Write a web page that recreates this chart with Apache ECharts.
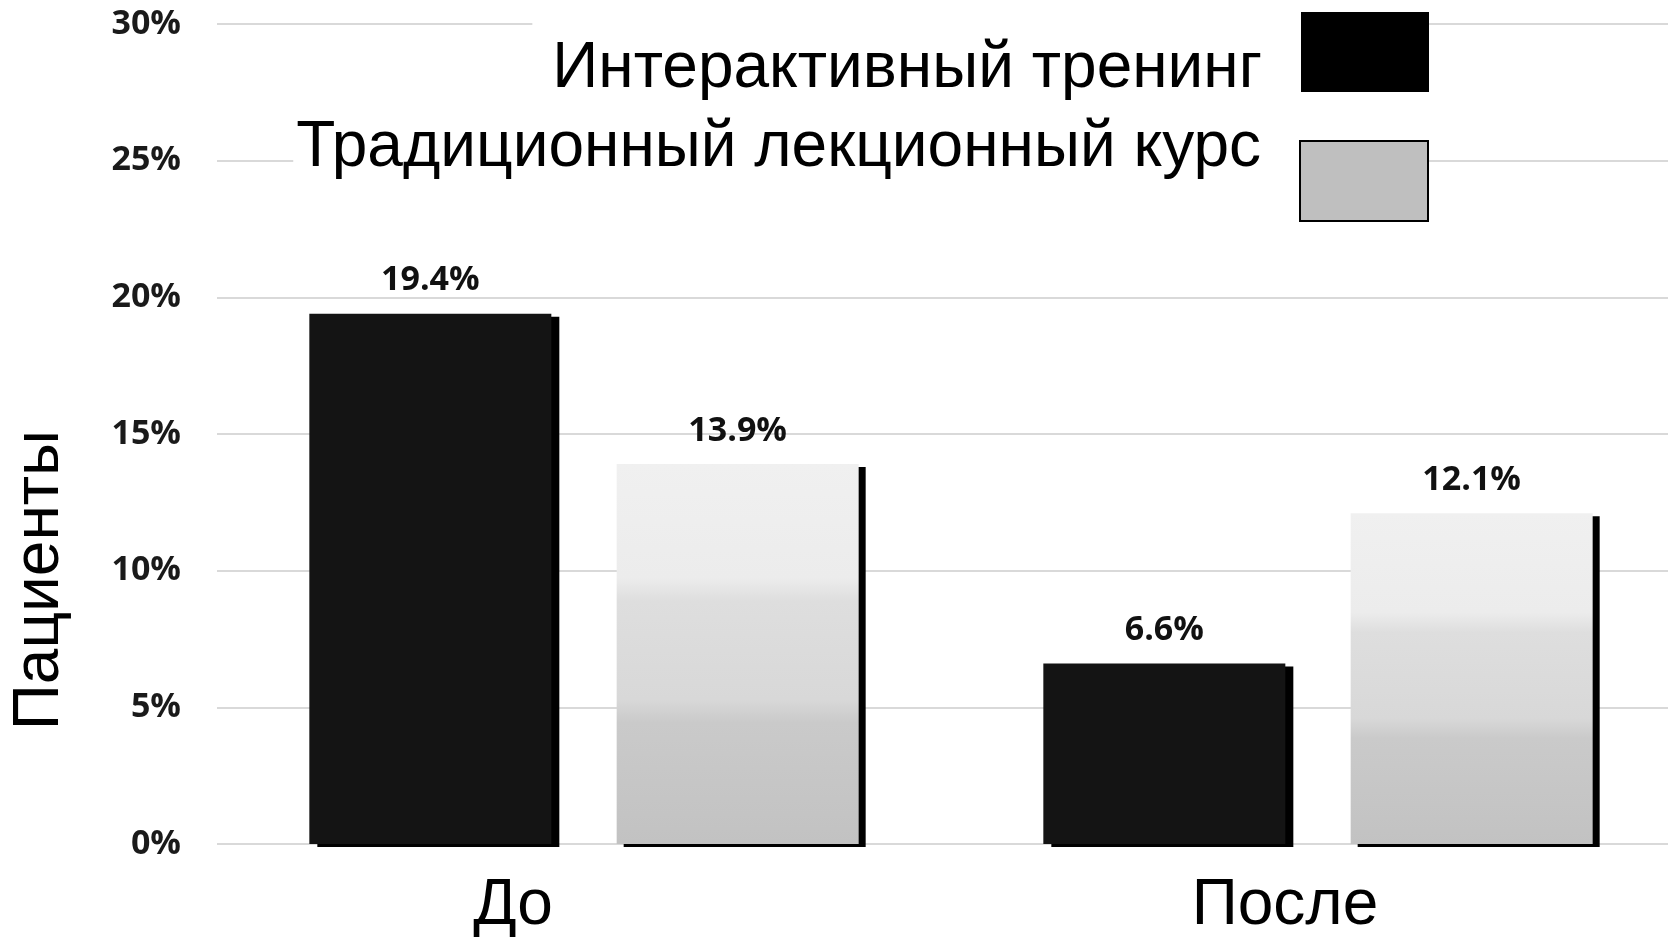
<html>

<head>
    <script src="https://cdn.jsdelivr.net/npm/echarts@6.0.0/dist/echarts.min.js"></script>
    <style>
        body {
            margin: 0;
            background: #fff;
            overflow: hidden;
        }
        /* a bit wider than the window: the original plot runs past the right edge */
        #chart {
            width: 1685px;
            height: 942px;
        }
    </style>
</head>

<body>
    <div id="chart"></div>

    <script>
        // data
        const categories = ['До', 'После'];
        const interactive = [19.4, 6.6];
        const lecture = [13.9, 12.1];
        const seriesNames = ['Интерактивный тренинг', 'Традиционный лекционный курс'];
        const yTicks = { min: 0, max: 30, step: 5 };

        const bigFont = 'Liberation Sans, Arial, sans-serif';
        const smallFont = 'Open Sans, sans-serif';

        // the category labels sit a bit left of the bar groups in the original
        const labelShift = [-71, -33];

        const chart = echarts.init(document.getElementById('chart'));

        const grayFill = new echarts.graphic.LinearGradient(0, 0, 0, 1, [
            { offset: 0, color: '#f0f0f0' },
            { offset: 0.3, color: '#ececec' },
            { offset: 0.36, color: '#dedede' },
            { offset: 0.62, color: '#d8d8d8' },
            { offset: 0.68, color: '#cacaca' },
            { offset: 1, color: '#c2c2c2' }
        ]);

        const valueLabel = {
            show: true,
            position: 'top',
            distance: 16,
            formatter: '{c}%',
            fontFamily: smallFont,
            fontWeight: 'bold',
            fontSize: 34,
            color: '#111'
        };

        // legend text is nudged up/down against its swatch with rich padding
        const legendText = (pad) => ({
            rich: {
                t: {
                    fontFamily: bigFont,
                    fontSize: 64,
                    lineHeight: 64,
                    color: '#000',
                    padding: pad
                }
            }
        });

        const legendBase = {
            orient: 'vertical',
            right: 256,
            align: 'right',
            icon: 'rect',
            itemWidth: 128,
            itemHeight: 80,
            backgroundColor: '#fff',
            borderWidth: 0,
            selectedMode: false,
            formatter: (name) => '{t|' + name + '}',
            z: 10
        };

        const option = {
            animation: false,
            backgroundColor: '#fff',
            grid: {
                left: 208,
                right: 0,
                top: 24,
                bottom: 98
            },
            legend: [
                Object.assign({}, legendBase, {
                    top: 3,
                    padding: [0, 0, 0, 20],
                    data: [{
                        name: seriesNames[0],
                        itemStyle: { color: '#000', borderWidth: 0, shadowOffsetX: 0, shadowOffsetY: 0 }
                    }],
                    textStyle: legendText([34, 34, 0, 0])
                }),
                Object.assign({}, legendBase, {
                    top: 116,
                    padding: [0, 0, 0, 3],
                    data: [{
                        name: seriesNames[1],
                        itemStyle: { color: '#bfbfbf', borderColor: '#000', borderWidth: 2, shadowOffsetX: 0, shadowOffsetY: 0 }
                    }],
                    textStyle: legendText([0, 34, 66, 0])
                })
            ],
            xAxis: {
                type: 'category',
                data: categories.map((c, i) => ({
                    value: c,
                    textStyle: { padding: [0, Math.max(0, -2 * labelShift[i]), 0, 0] }
                })),
                axisLine: { show: false },
                axisTick: { show: false },
                axisLabel: {
                    margin: 30,
                    fontFamily: bigFont,
                    fontSize: 64,
                    color: '#000'
                }
            },
            yAxis: {
                type: 'value',
                min: yTicks.min,
                max: yTicks.max,
                interval: yTicks.step,
                name: 'Пациенты',
                nameLocation: 'middle',
                nameGap: 145,
                nameTextStyle: {
                    fontFamily: bigFont,
                    fontSize: 64,
                    color: '#000',
                    padding: [0, 292, 0, 0]
                },
                axisLabel: {
                    formatter: '{value}%',
                    margin: 36,
                    fontFamily: smallFont,
                    fontWeight: 'bold',
                    fontSize: 34,
                    color: '#1a1a1a'
                },
                splitLine: {
                    lineStyle: { color: '#d9d9d9', width: 2 }
                }
            },
            series: [
                {
                    name: seriesNames[0],
                    type: 'bar',
                    data: interactive,
                    barWidth: 242,
                    barGap: '27%',
                    itemStyle: {
                        color: '#141414',
                        shadowColor: '#000',
                        shadowBlur: 0,
                        shadowOffsetX: 8,
                        shadowOffsetY: 3
                    },
                    label: valueLabel
                },
                {
                    name: seriesNames[1],
                    type: 'bar',
                    data: lecture,
                    barWidth: 242,
                    itemStyle: {
                        color: grayFill,
                        shadowColor: '#000',
                        shadowBlur: 0,
                        shadowOffsetX: 7,
                        shadowOffsetY: 3
                    },
                    label: valueLabel
                }
            ]
        };

        chart.setOption(option);
    </script>
</body>

</html>
